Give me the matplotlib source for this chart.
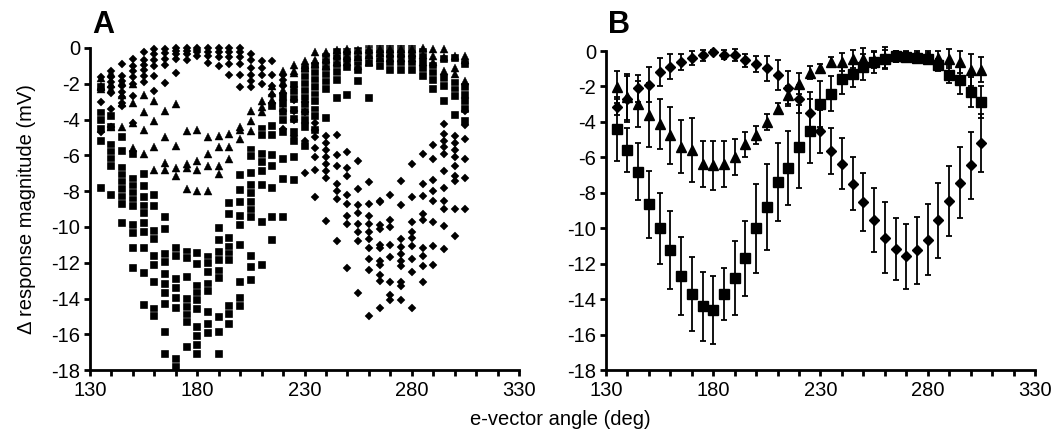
import matplotlib
matplotlib.use("Agg")
import matplotlib.pyplot as plt
from matplotlib.ticker import MultipleLocator

plt.rcParams['font.family'] = ['Liberation Sans', 'DejaVu Sans']
plt.rcParams['axes.unicode_minus'] = False

angles = list(range(135, 310, 5))
x_labels = [130, 180, 230, 280, 330]

# panel A: individual responses at each angle (one list per angle)
sq_pts = [
    [-2.2, -3.65, -4.05, -4.5, -5.2, -7.8],
    [-3.8, -4.4, -5.4, -5.8, -6.2, -6.6, -8.2],
    [-5.0, -5.75, -6.7, -7.1, -7.5, -7.9, -8.3, -8.7, -9.8],
    [-5.9, -7.3, -7.7, -8.1, -8.5, -8.85, -9.9, -10.35, -11.15, -12.3],
    [-7.05, -7.7, -8.3, -8.85, -9.2, -9.8, -10.3, -11.15, -12.55, -14.35],
    [-8.2, -8.85, -10.2, -10.7, -11.6, -12.1, -13.1, -14.6, -15.0],
    [-9.45, -10.1, -11.5, -11.95, -12.6, -13.2, -13.7, -14.3, -15.85, -17.1],
    [-11.2, -11.6, -12.9, -13.4, -13.95, -14.5, -17.4, -17.8],
    [-11.4, -11.75, -12.8, -14.05, -14.45, -14.9, -15.3, -16.7],
    [-11.45, -12.05, -13.3, -13.7, -14.1, -14.6, -15.6, -16.1, -16.6, -17.1],
    [-11.7, -12.0, -12.5, -13.2, -13.6, -14.75, -15.4, -15.95],
    [-10.05, -10.75, -11.4, -11.85, -12.45, -12.85, -15.05, -15.85, -17.1],
    [-8.65, -9.25, -10.6, -11.1, -11.5, -11.85, -14.4, -14.85, -15.4],
    [-7.1, -7.95, -8.6, -9.4, -9.9, -11.0, -13.1, -13.95, -14.4],
    [-5.7, -6.05, -7.0, -7.65, -8.1, -8.6, -9.05, -9.45, -11.6, -12.25, -12.95],
    [-4.5, -4.85, -5.9, -6.35, -6.85, -7.65, -9.7, -12.15],
    [-3.25, -4.35, -4.85, -6.0, -6.6, -7.8, -9.45, -10.75],
    [-2.7, -3.15, -3.6, -4.0, -4.7, -6.2, -7.3, -9.45],
    [-2.05, -2.45, -2.85, -3.45, -3.95, -4.7, -5.2, -6.1, -7.35],
    [-1.2, -1.6, -2.0, -2.4, -2.8, -3.2, -3.6, -4.0, -4.4, -5.5],
    [-1.0, -1.4, -1.8, -2.2, -2.6, -2.95, -3.45, -3.8, -4.6],
    [-0.5, -0.8, -1.15, -1.5, -1.9, -2.3, -3.9],
    [-0.2, -0.55, -0.95, -1.35, -1.8, -2.8],
    [-0.2, -0.35, -0.65, -1.05, -2.6],
    [-0.15, -0.35, -0.6, -0.95, -1.25, -1.85],
    [-0.05, -0.1, -0.2, -0.3, -0.45, -0.6, -0.85, -2.8],
    [-0.05, -0.15, -0.3, -0.5, -0.75, -1.0],
    [-0.05, -0.15, -0.3, -0.55, -0.85, -1.25],
    [-0.05, -0.15, -0.3, -0.5, -0.85, -1.25],
    [-0.05, -0.15, -0.3, -0.55, -0.9, -1.25],
    [-0.25, -0.5, -0.8, -1.15, -1.55],
    [-1.0, -1.4, -1.8, -2.3],
    [-0.6, -1.7, -2.15, -2.95],
    [-0.55, -1.95, -2.35, -2.7, -3.75],
    [-0.9, -2.2, -2.6, -3.0, -3.4, -4.1],
]

tri_pts = [
    [-1.7, -2.1, -2.2, -2.3],
    [-1.4, -2.0, -2.3, -4.4],
    [-1.9, -2.6, -3.1, -4.4],
    [-2.0, -3.05, -4.2, -5.6],
    [-2.6, -3.55, -4.6, -5.95],
    [-2.95, -4.1, -5.55, -6.8],
    [-3.5, -5.0, -6.4, -6.8],
    [-3.15, -5.5, -6.7, -7.15],
    [-4.65, -6.5, -6.7, -7.9],
    [-4.6, -6.3, -6.8, -8.0],
    [-5.0, -5.95, -6.6, -8.0],
    [-4.9, -5.55, -6.6, -7.05],
    [-4.8, -5.55, -6.2],
    [-4.4, -4.6, -5.1],
    [-3.5, -4.1, -4.65],
    [-2.95, -3.3, -3.6],
    [-2.1, -2.5, -2.9],
    [-1.3, -1.9, -2.35],
    [-0.95, -1.3, -1.4],
    [-0.75, -0.95, -1.1],
    [-0.25, -0.7, -0.9],
    [-0.25, -0.6, -1.0],
    [-0.1, -0.4, -0.8],
    [-0.05, -0.45, -0.8],
    [-0.1, -0.5, -1.0],
    [-0.05, -0.4, -0.8],
    [-0.05, -0.3, -0.55],
    [-0.05, -0.3, -0.55],
    [-0.05, -0.3, -0.55],
    [-0.05, -0.3, -0.55],
    [0.0, -0.4, -0.8],
    [-0.05, -0.45, -0.8],
    [-0.07, -0.5, -1.3],
    [-0.45, -1.1, -1.45],
    [-0.45, -0.7, -1.85],
]

dia_pts = [
    [-1.6, -3.0, -4.7],
    [-1.3, -1.6, -1.9, -2.2, -2.5, -3.4, -4.4],
    [-0.9, -1.55, -1.85, -2.15, -2.45, -2.75, -3.05, -3.25],
    [-0.6, -1.0, -1.3, -1.65, -2.0, -2.7, -4.2],
    [-0.25, -0.65, -0.95, -1.25, -1.55, -1.9],
    [-0.05, -0.35, -0.65, -1.0, -1.55, -2.4],
    [-0.05, -0.3, -0.6, -0.95, -1.95],
    [0.0, -0.15, -0.35, -0.6, -1.4],
    [0.0, -0.15, -0.35, -0.7],
    [0.0, -0.1, -0.25, -0.45],
    [0.0, -0.2, -0.45, -0.85],
    [0.0, -0.2, -0.5, -1.0],
    [0.0, -0.2, -0.5, -0.9, -1.5],
    [0.0, -0.2, -0.5, -0.9, -1.5, -2.2],
    [-0.35, -0.7, -1.1, -1.5, -1.85, -2.2],
    [-0.75, -1.1, -1.5, -2.0],
    [-0.75, -1.5, -2.1, -2.6, -3.1],
    [-1.5, -1.8, -2.1, -2.9, -3.5, -4.5],
    [-2.2, -2.9, -3.5, -4.0, -4.9],
    [-3.0, -3.6, -4.2, -5.2, -7.0],
    [-4.2, -4.6, -5.0, -5.6, -6.1, -6.8, -8.3],
    [-4.9, -5.3, -5.7, -6.1, -6.5, -6.9, -7.25, -9.65],
    [-4.85, -6.0, -6.6, -7.6, -8.0, -8.45, -10.8],
    [-5.8, -6.7, -7.15, -8.2, -8.7, -9.4, -9.85, -12.3],
    [-6.3, -7.9, -8.8, -9.2, -9.85, -10.3, -10.8, -13.7],
    [-7.5, -8.7, -9.4, -9.85, -10.3, -10.7, -11.2, -11.8, -12.4, -15.0],
    [-8.55, -8.6, -9.9, -10.1, -11.0, -11.2, -11.9, -12.1, -12.7, -13.0, -14.5],
    [-8.2, -9.6, -10.0, -11.0, -11.7, -13.1, -13.8, -14.1],
    [-7.45, -8.8, -10.7, -11.1, -11.5, -11.9, -12.2, -13.1, -13.3, -14.1],
    [-6.5, -8.35, -9.75, -10.3, -10.6, -11.05, -11.8, -12.5, -14.5],
    [-5.9, -7.6, -8.25, -9.3, -9.6, -11.2, -11.6, -12.2, -13.1],
    [-5.4, -6.2, -7.35, -8.0, -8.55, -9.75, -11.05, -12.1],
    [-4.25, -4.8, -5.2, -5.55, -5.95, -6.9, -7.8, -8.55, -9.0, -9.95, -11.25],
    [-4.9, -5.3, -5.7, -6.1, -6.6, -7.15, -7.45, -9.0, -10.5],
    [-2.8, -3.5, -4.3, -5.1, -6.2, -7.25, -9.0],
]

# panel B: mean and error at each angle
sq_mean = [-4.4, -5.6, -6.8, -8.65, -10.0, -11.2, -12.7, -13.7, -14.4, -14.6,
           -13.7, -12.8, -11.7, -10.0, -8.8, -7.4, -6.6, -5.4, -4.5, -3.0,
           -2.4, -1.6, -1.3, -0.9, -0.62, -0.43, -0.3, -0.34, -0.4, -0.43,
           -0.8, -1.33, -1.65, -2.33, -2.85]
sq_err = [1.8, 1.25, 1.6, 1.9, 2.0, 2.2, 2.2, 2.1, 1.95, 1.9,
          1.45, 2.1, 2.1, 2.5, 2.4, 2.2, 2.1, 2.35, 1.8, 1.3,
          1.0, 0.85, 0.75, 0.75, 0.6, 0.5, 0.3, 0.3, 0.3, 0.3,
          0.35, 0.5, 0.8, 0.85, 0.9]
tri_mean = [-2.05, -2.6, -2.97, -3.63, -4.1, -4.75, -5.4, -5.6, -6.39, -6.45,
            -6.35, -5.98, -5.25, -4.72, -4.0, -3.25, -2.5, -1.85, -1.22, -0.94,
            -0.62, -0.62, -0.43, -0.43, -0.53, -0.4, -0.3, -0.3, -0.3, -0.3,
            -0.4, -0.43, -0.62, -1.05, -1.05]
tri_err = [0.9, 1.3, 1.3, 1.8, 1.4, 1.6, 1.5, 1.8, 1.3, 1.4,
           1.3, 1.0, 0.7, 0.5, 0.45, 0.3, 0.5, 0.6, 0.35, 0.2,
           0.3, 0.5, 0.5, 0.6, 0.45, 0.6, 0.3, 0.3, 0.3, 0.3,
           0.4, 0.55, 0.6, 0.9, 0.7]
dia_mean = [-3.16, -2.69, -2.1, -1.9, -1.2, -0.88, -0.62, -0.38, -0.24, -0.07,
            -0.22, -0.24, -0.53, -0.71, -0.98, -1.35, -2.1, -2.71, -3.5, -4.53,
            -5.64, -6.35, -7.48, -8.52, -9.51, -10.53, -11.15, -11.58, -11.24, -10.64,
            -9.55, -8.46, -7.42, -6.45, -5.19]
dia_err = [0.45, 1.3, 0.75, 1.0, 0.8, 0.7, 0.45, 0.4, 0.3, 0.1,
           0.25, 0.35, 0.35, 0.45, 0.7, 0.85, 1.0, 0.8, 1.2, 1.2,
           1.3, 1.45, 1.5, 1.65, 1.8, 2.0, 1.75, 1.85, 1.9, 2.0,
           2.1, 1.95, 2.0, 1.9, 1.65]


def flatten(pts):
    xs, ys = [], []
    for a, vals in zip(angles, pts):
        for v in vals:
            xs.append(a)
            ys.append(v)
    return xs, ys


def style_axes(ax):
    ax.set_xlim(130, 330)
    ax.set_ylim(-18, 0)
    ax.set_xticks(x_labels)
    ax.xaxis.set_minor_locator(MultipleLocator(10))
    ax.yaxis.set_major_locator(MultipleLocator(2))
    for s in ['top', 'right']:
        ax.spines[s].set_visible(False)
    for s in ['left', 'bottom']:
        ax.spines[s].set_linewidth(2)
    ax.tick_params(which='both', direction='out', width=2, length=4,
                   labelsize=14.5, pad=3)
    ax.tick_params(axis='x', which='major', pad=4)


fig = plt.figure(figsize=(10.53, 4.36), dpi=100)
axA = fig.add_axes([0.0855, 0.151, 0.4074, 0.739])
axB = fig.add_axes([0.5755, 0.151, 0.4074, 0.732])

xs, ys = flatten(sq_pts)
axA.plot(xs, ys, 's', color='black', ms=6, mec='white', mew=0.25, clip_on=False)
xs, ys = flatten(dia_pts)
axA.plot(xs, ys, 'D', color='black', ms=3.8, mec='black', mew=0.3, clip_on=False)
xs, ys = flatten(tri_pts)
axA.plot(xs, ys, '^', color='black', ms=5.8, mec='black', mew=0.3, clip_on=False)

axB.errorbar(angles, tri_mean, yerr=tri_err, fmt='^', color='black', ms=7,
             elinewidth=1.3, capsize=2, capthick=1.3, clip_on=False)
axB.errorbar(angles, dia_mean, yerr=dia_err, fmt='D', color='black', ms=5,
             elinewidth=1.3, capsize=2, capthick=1.3, clip_on=False)
axB.errorbar(angles, sq_mean, yerr=sq_err, fmt='s', color='black', ms=7,
             elinewidth=1.3, capsize=2, capthick=1.3, clip_on=False)

for ax in (axA, axB):
    style_axes(ax)

axA.set_ylabel('Δ response magnitude (mV)', fontsize=14.5, labelpad=11)
fig.text(0.532, 0.025, 'e-vector angle (deg)', fontsize=14.5, ha='center')
fig.text(0.088, 0.925, 'A', fontsize=22, fontweight='bold')
fig.text(0.577, 0.925, 'B', fontsize=22, fontweight='bold')

fig.savefig('out.png', dpi=100)
